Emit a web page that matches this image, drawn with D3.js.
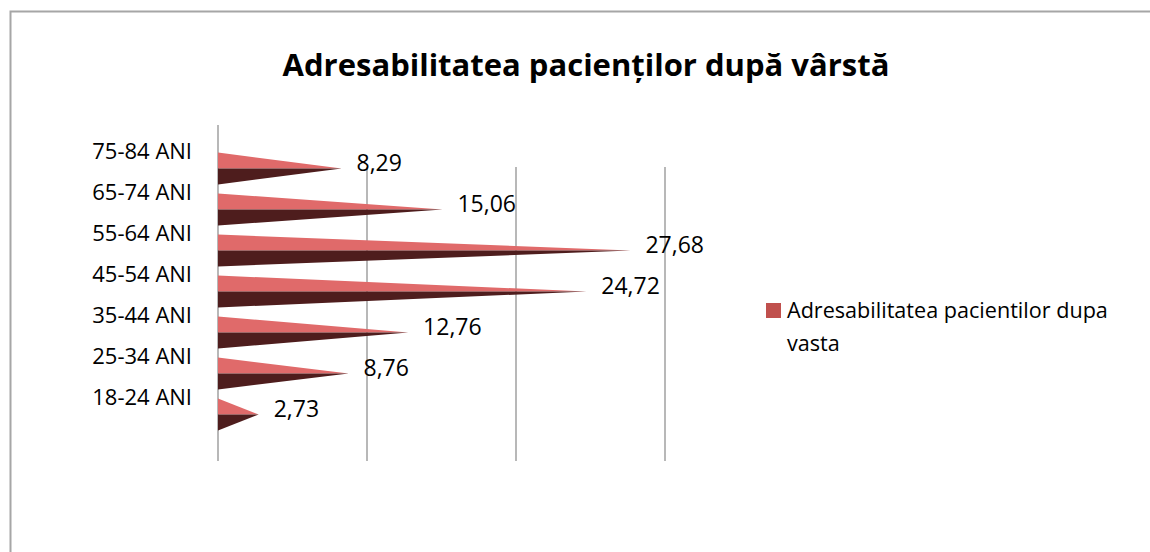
<!DOCTYPE html>
<html>
<head>
<meta charset="utf-8">
<script src="https://cdn.jsdelivr.net/npm/d3@7"></script>
<style>
  body { margin: 0; background: #fff; }
  svg text { font-family: "Open Sans", "Noto Sans", sans-serif; fill: #000; }
</style>
</head>
<body>
<div id="chart"></div>
<script>
// Chart data
var categories = ["75-84 ANI", "65-74 ANI", "55-64 ANI", "45-54 ANI", "35-44 ANI", "25-34 ANI", "18-24 ANI"];
var values = [8.29, 15.06, 27.68, 24.72, 12.76, 8.76, 2.73];
var gridTicks = [10, 20, 30];
var seriesName = "Adresabilitatea pacientilor dupa vasta";
var title = "Adresabilitatea pacienților după vârstă";

var width = 1150, height = 552;
var svg = d3.select("#chart").append("svg").attr("width", width).attr("height", height);

// outer frame
svg.append("rect").attr("x", 10.5).attr("y", 11.5).attr("width", 1160).attr("height", 560)
    .attr("fill", "none").attr("stroke", "#a6a6a6").attr("stroke-width", 2);

svg.append("text").attr("x", 586).attr("y", 76).attr("text-anchor", "middle")
    .attr("font-size", 31).attr("font-weight", "bold").text(title);

var x = d3.scaleLinear().domain([0, 30]).range([218, 665]);
var y = d3.scaleBand().domain(categories).range([148, 435]).paddingInner(0.22).paddingOuter(0.11);

// gridlines
svg.selectAll(".grid").data(gridTicks).enter().append("line")
    .attr("x1", function(d) { return x(d); }).attr("x2", function(d) { return x(d); })
    .attr("y1", 167).attr("y2", 461)
    .attr("stroke", "#b8b8b8").attr("stroke-width", 2);
// axis line
svg.append("line").attr("x1", x(0)).attr("x2", x(0)).attr("y1", 125).attr("y2", 461)
    .attr("stroke", "#b8b8b8").attr("stroke-width", 2);

// cone bars: light top half, dark bottom half
var bars = svg.selectAll(".bar").data(categories).enter().append("g").attr("class", "bar");
bars.append("path").attr("fill", "#e06a6a").attr("d", function(c, i) {
    var top = y(c), mid = y(c) + y.bandwidth() / 2;
    return "M" + x(0) + "," + top + "L" + x(values[i]) + "," + mid + "L" + x(0) + "," + mid + "Z";
});
bars.append("path").attr("fill", "#4e1d1d").attr("d", function(c, i) {
    var bot = y(c) + y.bandwidth(), mid = y(c) + y.bandwidth() / 2;
    return "M" + x(0) + "," + mid + "L" + x(values[i]) + "," + mid + "L" + x(0) + "," + bot + "Z";
});

// category labels
svg.selectAll(".cat").data(categories).enter().append("text")
    .attr("x", 192).attr("y", function(c) { return y(c) + y.bandwidth() / 2 - 9.5; })
    .attr("text-anchor", "end").attr("font-size", 22).text(function(c) { return c; });

// value labels
svg.selectAll(".val").data(values).enter().append("text")
    .attr("x", function(v) { return x(v) + 15; })
    .attr("y", function(v, i) { return y(categories[i]) + y.bandwidth() / 2 + 2.5; })
    .attr("font-size", 23).text(function(v) { return d3.format(".2f")(v).replace(".", ","); });

// legend
svg.append("rect").attr("x", 766).attr("y", 303).attr("width", 15).attr("height", 15).attr("fill", "#c0504d");
var lt = svg.append("text").attr("x", 787).attr("y", 318).attr("font-size", 21.6);
lt.append("tspan").text("Adresabilitatea pacientilor dupa");
lt.append("tspan").attr("x", 787).attr("dy", 33).text("vasta");
</script>
</body>
</html>
